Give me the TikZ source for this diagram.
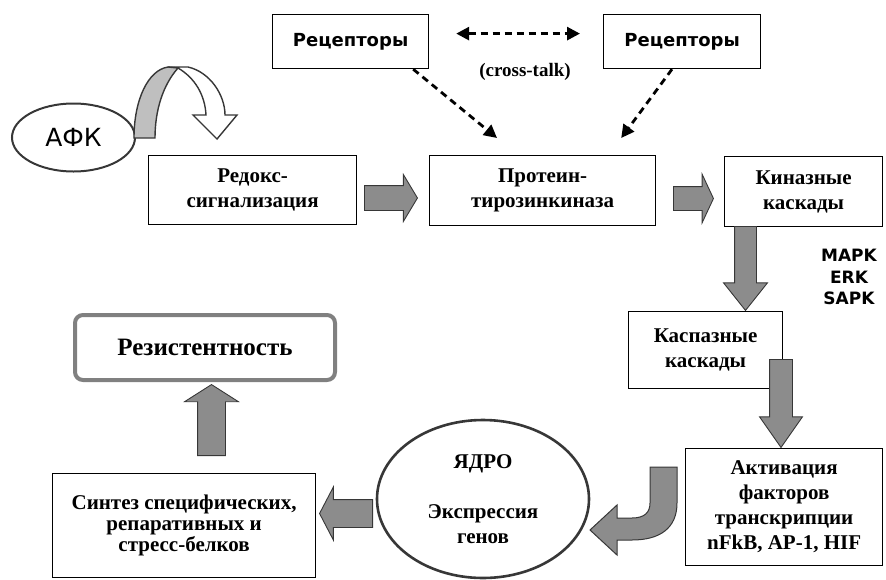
\documentclass[tikz,border=0pt]{standalone}
\usepackage{fontspec}
\setmainfont{Liberation Serif}
\newfontfamily\dejavu{DejaVu Sans}
\usetikzlibrary{shapes.geometric,shapes.arrows,arrows.meta}
\definecolor{arrowgray}{RGB}{140,140,140}
\definecolor{edgegray}{RGB}{55,55,55}

\begin{document}
\begin{tikzpicture}[x=1pt, y=-1pt,
  box/.style={draw, line width=1.2pt, inner sep=0pt, align=center, anchor=north west, font=\bfseries\fontsize{21}{25}\selectfont},
  oval/.style={draw=edgegray, ellipse, line width=2.6pt, inner sep=0pt, align=center},
  fat/.style={single arrow, draw=edgegray, fill=arrowgray, line width=0.9pt, minimum width=0pt, anchor=tail},
  dasharrow/.style={dash pattern=on 7pt off 5pt, line width=2.8pt},
  >={Triangle[length=13pt,width=13pt]}]
\useasboundingbox (0,0) rectangle (886,579);
% receptors and cross-talk
\node[box, font=\dejavu\bfseries\fontsize{18}{20}\selectfont, minimum width=156pt, minimum height=54pt] (R1) at (272,14) {Рецепторы};
\node[box, font=\dejavu\bfseries\fontsize{18}{20}\selectfont, minimum width=157pt, minimum height=54pt] (R2) at (603,14) {Рецепторы};
\node[font=\bfseries\fontsize{19}{20}\selectfont] (CT) at (525,72) {(cross-talk)};
% main chain
\node[oval, minimum width=123pt, minimum height=68pt, line width=2pt, font=\dejavu\fontsize{25}{30}\selectfont] (AFK) at (73.5,137.5) {АФК};
\node[box, minimum width=208pt, minimum height=69pt] (B1) at (148,155) {Редокс-\\сигнализация};
\node[box, minimum width=226pt, minimum height=70pt] (B2) at (429,155) {Протеин-\\тирозинкиназа};
\node[box, minimum width=158pt, minimum height=70pt] (B3) at (724,156) {Киназные\\каскады};
\node[font=\dejavu\bfseries\fontsize{17}{21.5}\selectfont, align=center] (MK) at (849,277) {MAPK\\ERK\\SAPK};
\node[box, minimum width=154pt, minimum height=77pt] (B4) at (628,311) {Каспазные\\каскады};
\node[box, minimum width=197pt, minimum height=117pt] (B5) at (685,448) {Активация\\факторов\\транскрипции\\nFkB, AP-1, HIF};
\node[oval, minimum width=212pt, minimum height=158pt, font=\bfseries\fontsize{21}{25}\selectfont] (NU) at (483,499) {ЯДРО\\[25pt]Экспрессия\\генов};
\node[box, minimum width=263pt, minimum height=104pt, font=\bfseries\fontsize{21}{21}\selectfont] (B6) at (52,473) {Синтез специфических,\\репаративных и\\стресс-белков};
\node[box, draw=gray, line width=4pt, rounded corners=8pt, minimum width=260pt, minimum height=65pt, font=\bfseries\fontsize{25}{30}\selectfont] (RS) at (73,313) {Резистентность};
% dashed arrows
\draw[dasharrow, <->, shorten <=27pt, shorten >=23pt] ([yshift=8pt]R1.east) -- ([yshift=8pt]R2.west);
\draw[dasharrow, ->] ([xshift=-16pt]R1.south east) -- ([xshift=68pt,yshift=17pt]B2.north west);
\draw[dasharrow, ->] ([xshift=69pt]R2.south west) -- ([xshift=-35pt,yshift=17pt]B2.north east);
% block arrows
\node[fat, minimum height=53pt, inner sep=12pt, single arrow head extend=11pt, single arrow tip angle=118] (A1) at (364,198) {};
\node[fat, minimum height=40pt, inner sep=11.5pt, single arrow head extend=12.5pt, single arrow tip angle=130] (A2) at (673,198.5) {};
\node[fat, shape border rotate=270, minimum height=84pt, inner sep=10.5pt, single arrow head extend=11pt, single arrow tip angle=77] (A3) at (745.5,226) {};
\node[fat, shape border rotate=270, minimum height=88pt, inner sep=11pt, single arrow head extend=10pt, single arrow tip angle=70] (A4) at (781,359) {};
\node[fat, shape border rotate=180, minimum height=53pt, inner sep=13.5pt, single arrow head extend=12.5pt, single arrow tip angle=125] (A5) at (373,513.5) {};
\node[fat, shape border rotate=90, minimum height=71pt, inner sep=13.5pt, single arrow head extend=13pt, single arrow tip angle=115] (A6) at (211.5,456) {};
% curved arrows
\filldraw[draw=edgegray, fill=white, line width=1.4pt] (168,67) -- (188,67) .. controls (210,72) and (225,95) .. (225,115) -- (237,115) -- (217,139) -- (193,115) -- (206,115) .. controls (205,95) and (195,78) .. (178,68) -- cycle;
\filldraw[draw=edgegray, fill=lightgray, line width=1.4pt] (134,138) .. controls (134,100) and (148,70) .. (168,67) -- (178,68) .. controls (163,85) and (155,110) .. (155,138) -- cycle;
\filldraw[draw=edgegray, fill=arrowgray, line width=1pt] (677,467) -- (677,503) .. controls (677,528) and (660,540) .. (632,540) -- (617,540) -- (617,555) -- (590,530) -- (617,505) -- (617,518) -- (632,518) .. controls (645,518) and (650,512) .. (650,503) -- (650,467) -- cycle;
\end{tikzpicture}
\end{document}
